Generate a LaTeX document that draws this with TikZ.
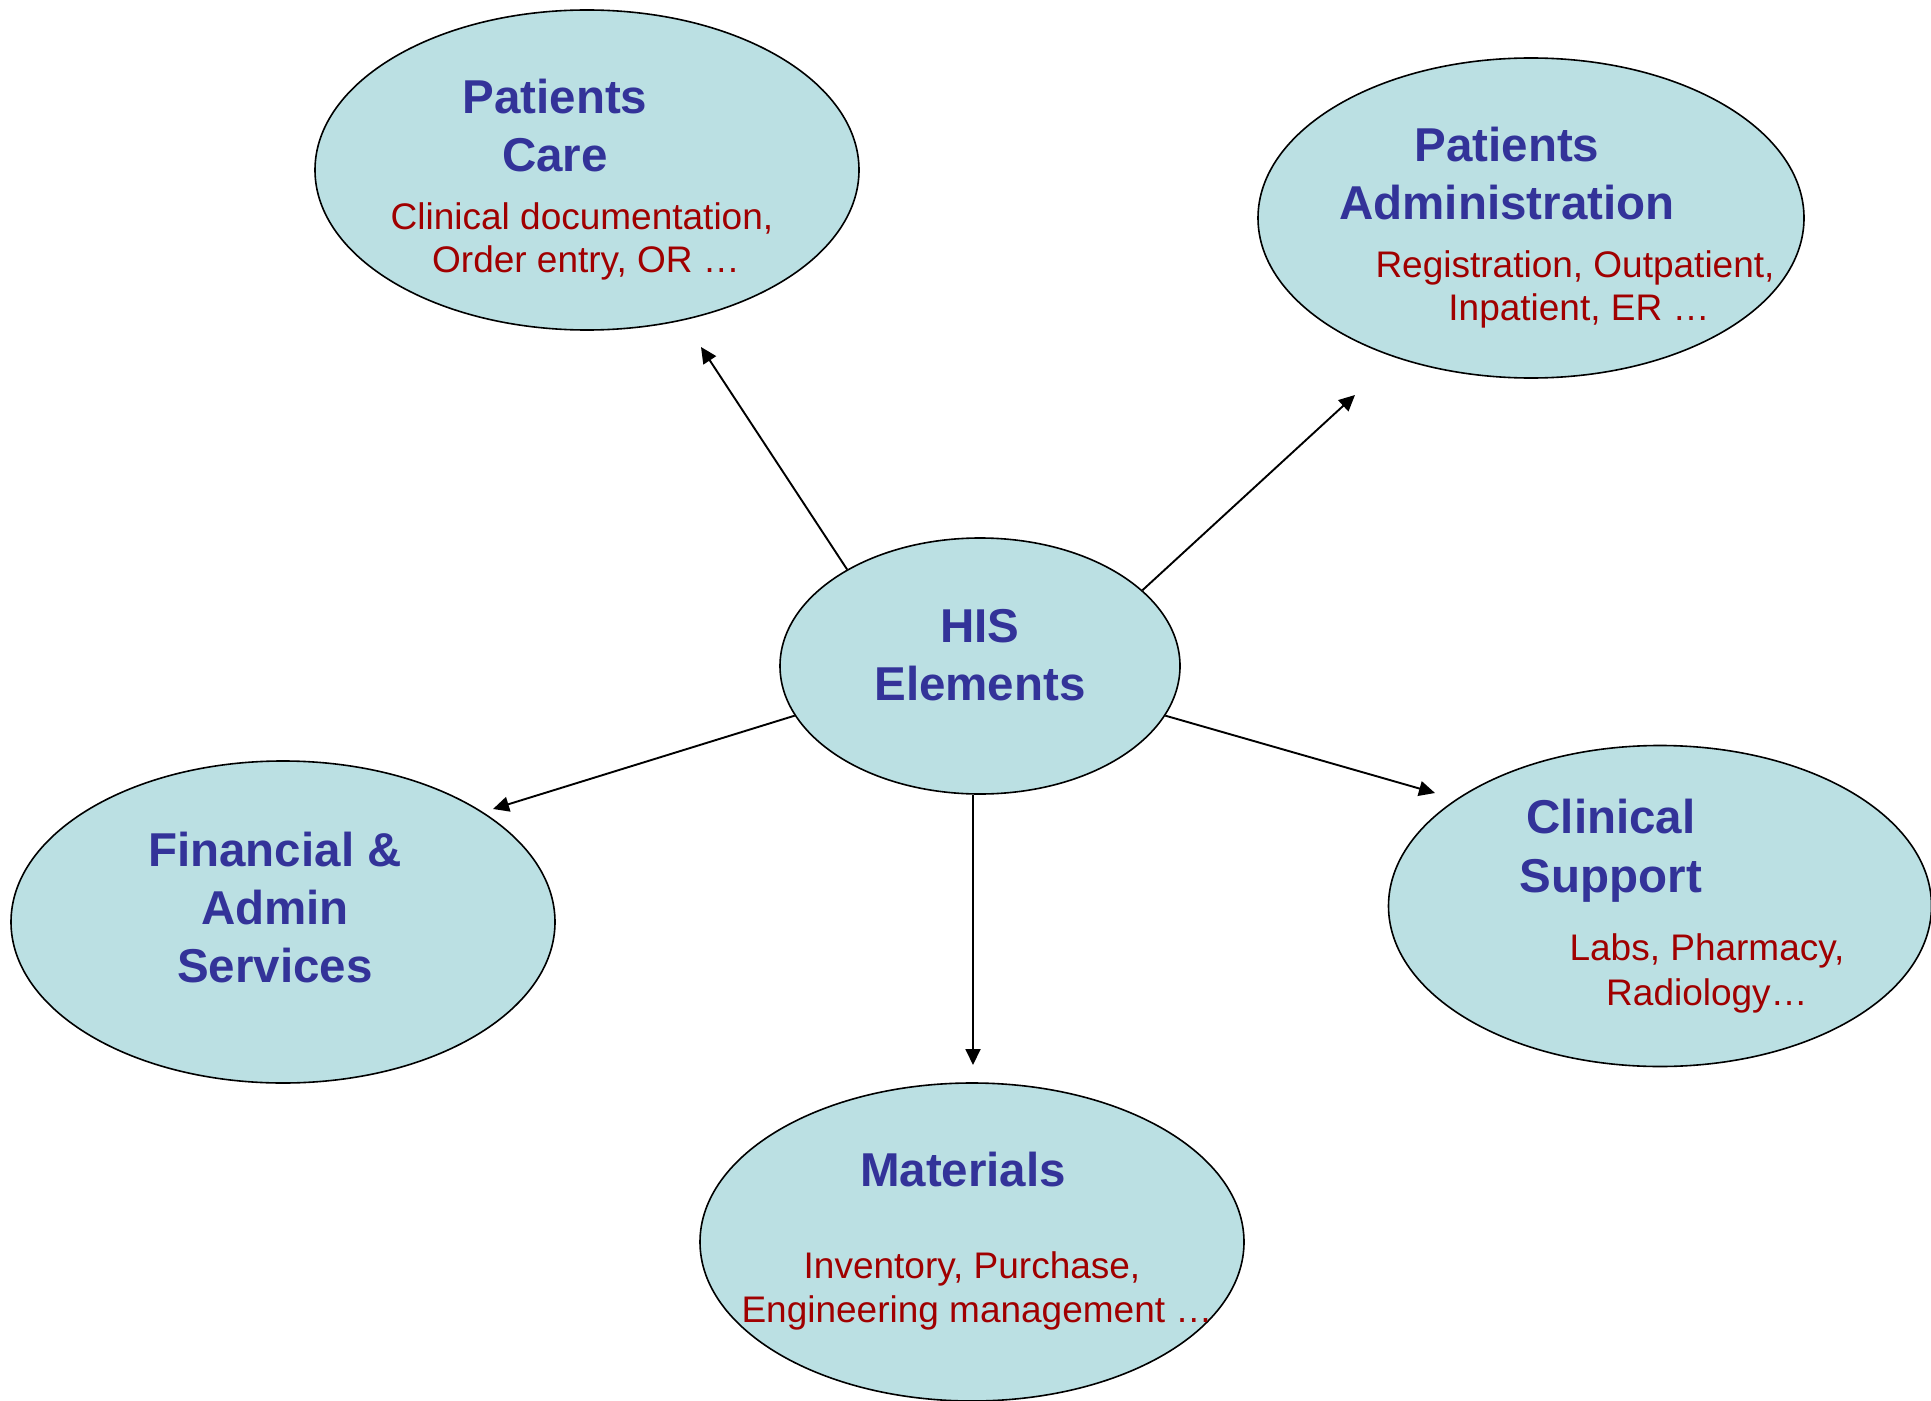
\documentclass[tikz,border=0pt]{standalone}
\usepackage{fontspec}
\setmainfont{Liberation Sans}
\usetikzlibrary{shapes.geometric,arrows.meta}
\definecolor{bubblefill}{RGB}{187,224,227}
\definecolor{ttlblue}{RGB}{51,51,153}
\definecolor{subred}{RGB}{160,0,0}
\newcommand{\ttlfont}{\bfseries\fontsize{47.5bp}{58bp}\selectfont}
\newcommand{\subfont}{\fontsize{37bp}{43bp}\selectfont}
\tikzset{
  bubble/.style={ellipse, draw=black, line width=1.6bp, fill=bubblefill, inner sep=0pt},
  ttl/.style={font=\ttlfont, text=ttlblue, anchor=base, inner sep=0pt},
  sub/.style={font=\subfont, text=subred, anchor=base, inner sep=0pt},
  arr/.style={-{Triangle[length=16bp,width=15bp]}, line width=1.9bp, draw=black}
}
\begin{document}
\begin{tikzpicture}[x=1bp,y=-1bp]
\useasboundingbox[fill=white] (0,0) rectangle (1931,1401);

% bubbles
\node[bubble, minimum width=544bp, minimum height=320bp] (care) at (587,170) {};
\node[bubble, minimum width=546bp, minimum height=320bp] (admin) at (1531,218) {};
\node[bubble, minimum width=400bp, minimum height=256bp] (his) at (980,666) {};
\node[bubble, minimum width=544bp, minimum height=322bp] (fin) at (283,922) {};
\node[bubble, minimum width=543bp, minimum height=321bp] (clin) at (1660,906) {};
\node[bubble, minimum width=544bp, minimum height=318bp] (mat) at (972,1242) {};

% texts
\node[ttl] (care1) at (555,114) {Patients};
\node[ttl] (care2) at (555,172) {Care};
\node[sub] (care3) at (582,230) {Clinical documentation,};
\node[sub] (care4) at (586,273) {Order entry, OR …};

\node[ttl] (admin1) at (1507,162) {Patients};
\node[ttl] (admin2) at (1507,220) {Administration};
\node[sub] (admin3) at (1575,278) {Registration, Outpatient,};
\node[sub] (admin4) at (1579,321) {Inpatient, ER …};

\node[ttl] (his1) at (980,642) {HIS};
\node[ttl] (his2) at (980,700) {Elements};

\node[ttl] (fin1) at (275,866) {Financial \&};
\node[ttl] (fin2) at (275,924) {Admin};
\node[ttl] (fin3) at (275,982) {Services};

\node[ttl] (clin1) at (1611,833) {Clinical};
\node[ttl] (clin2) at (1611,892) {Support};
\node[sub] (clin3) at (1707,960) {Labs, Pharmacy,};
\node[sub] (clin4) at (1707,1005) {Radiology…};

\node[ttl] (mat1) at (963,1186) {Materials};
\node[sub] (mat2) at (972,1278) {Inventory, Purchase,};
\node[sub] (mat3) at (977,1322) {Engineering management …};

% arrow tips
\coordinate (t1) at (701,347);
\coordinate (t2) at (1355,395);
\coordinate (t3) at (493,809);
\coordinate (t4) at (973,1065);
\coordinate (t5) at (1435,793);

\draw[arr] (his.144.8) -- (t1);
\draw[arr] (his.25.5) -- (t2);
\draw[arr] (his.195) -- (t3);
\draw[arr] (t4 |- his.south) -- (t4);
\draw[arr] (his.345) -- (t5);
\end{tikzpicture}
\end{document}
